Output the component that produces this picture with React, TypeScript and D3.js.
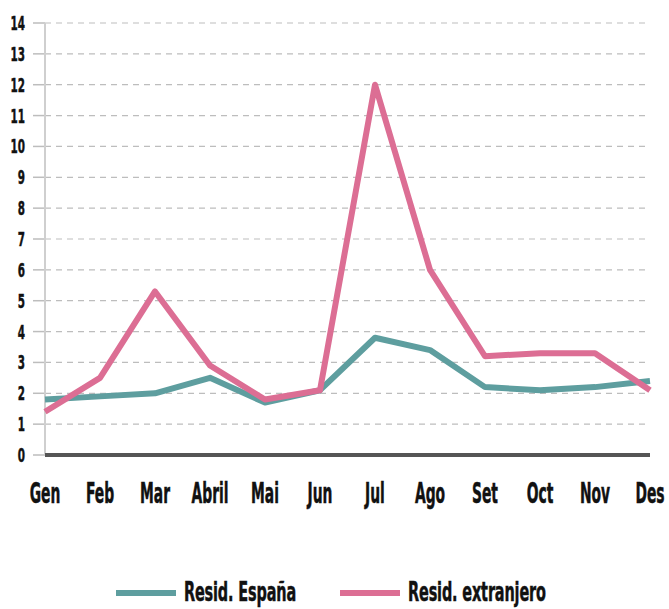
import React from "react";
import * as d3 from "d3";

const months = ["Gen", "Feb", "Mar", "Abril", "Mai", "Jun", "Jul", "Ago", "Set", "Oct", "Nov", "Des"];
const espana = [1.8, 1.9, 2.0, 2.5, 1.7, 2.1, 3.8, 3.4, 2.2, 2.1, 2.2, 2.4];
const extranjero = [1.4, 2.5, 5.3, 2.9, 1.8, 2.1, 12.0, 6.0, 3.2, 3.3, 3.3, 2.1];
const yTicks = d3.range(0, 15);
const seriesNames = ["Resid. España", "Resid. extranjero"];
const colors = ["#5e9e9f", "#dc6e94"];

const W = 669, H = 609;
const font = "'DejaVu Sans Condensed', 'DejaVu Sans', sans-serif";

export default function App() {
  const x = d3.scalePoint<string>().domain(months).range([45, 650]);
  const y = d3.scaleLinear().domain([0, 14]).range([455, 23]);
  const line = d3.line<number>().x((_, i) => x(months[i])!).y((d) => y(d));
  const series = [espana, extranjero];
  const sx = (cx: number, cy: number, s: number, t: number) =>
    `translate(${cx},${cy}) scale(${s},${t}) translate(${-cx},${-cy})`;
  return (
    <svg width={W} height={H} style={{ position: "absolute", left: 0, top: 0, background: "#fff" }}>
      {yTicks.map((t) => (
        <g key={t}>
          <line x1={33} x2={45} y1={y(t)} y2={y(t)} stroke="#bdbdbd" strokeWidth={1.5} />
          {t > 0 && (
            <line x1={45} x2={650} y1={y(t)} y2={y(t)} stroke="#bdbdbd" strokeWidth={1.2} strokeDasharray="6,5" />
          )}
          <text x={25} y={y(t)} dy="0.36em" textAnchor="end" fontFamily={font} fontWeight="bold" fontSize={17} fill="#111"
            stroke="#111" strokeWidth={0.4} transform={sx(25, y(t), 0.68, 1.15)}>
            {t}
          </text>
        </g>
      ))}
      <line x1={45} x2={45} y1={y(14)} y2={y(0)} stroke="#cfcfcf" strokeWidth={2} />
      {series.map((s, i) => (
        <path key={i} d={line(s)!} fill="none" stroke={colors[i]} strokeWidth={6} strokeLinejoin="round" />
      ))}
      <line x1={45} x2={650} y1={y(0)} y2={y(0)} stroke="#555" strokeWidth={4} />
      {months.map((m) => (
        <text key={m} x={x(m)} y={493} dy="0.36em" textAnchor="middle" fontFamily={font} fontWeight="bold" fontSize={22} fill="#111"
          stroke="#111" strokeWidth={0.4} transform={sx(x(m)!, 493, 0.7, 1.25)}>
          {m}
        </text>
      ))}
      {seriesNames.map((n, i) => {
        const lx = i === 0 ? 116 : 340;
        return (
          <g key={n}>
            <line x1={lx} x2={lx + 60} y1={593} y2={593} stroke={colors[i]} strokeWidth={6} />
            <text x={lx + 68} y={592} dy="0.36em" fontFamily={font} fontWeight="bold" fontSize={22} fill="#111"
              stroke="#111" strokeWidth={0.4} letterSpacing={-0.2} transform={sx(lx + 68, 592, 0.73, 1.2)}>
              {n}
            </text>
          </g>
        );
      })}
    </svg>
  );
}
